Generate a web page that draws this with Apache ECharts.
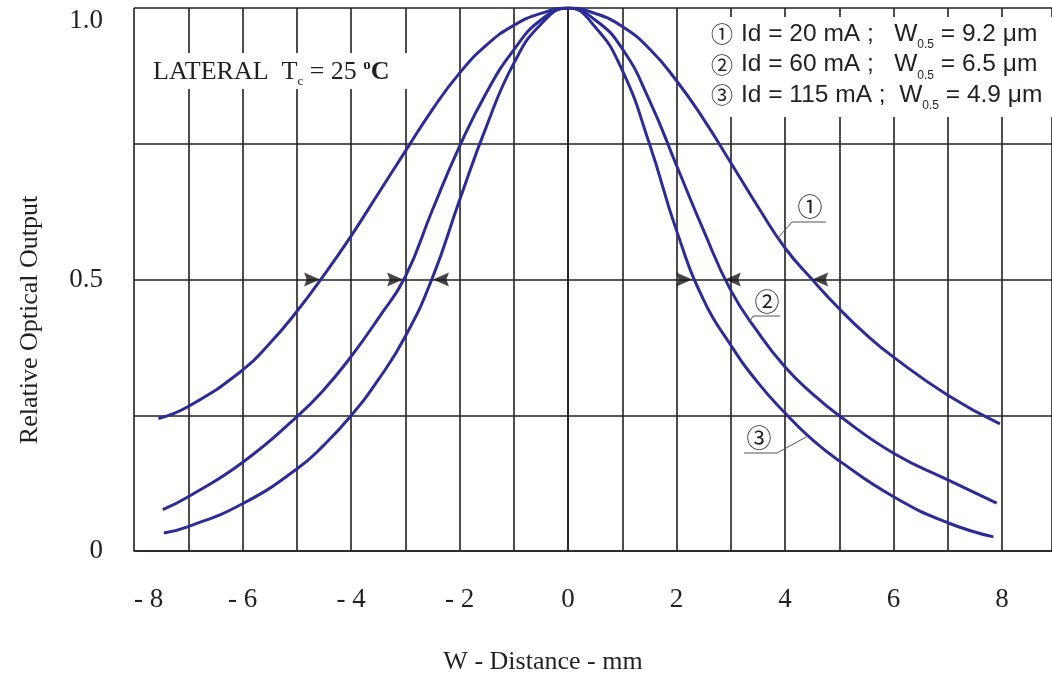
<!DOCTYPE html>
<html>
<head>
<meta charset="utf-8">
<script src="https://cdn.jsdelivr.net/npm/echarts@6/dist/echarts.min.js"></script>
<style>html,body{margin:0;padding:0;background:#fff;}#c{width:1052px;height:679px;}</style>
</head>
<body>
<div id="c"></div>
<script>
// ---- data ----
const xs1 = [-7.55,-7,-6,-5.5,-5,-4.5,-4,-3.5,-3,-2.5,-2,-1.5,-1,-0.5,0,0.5,1,1.5,2,2.5,3,3.5,4,4.5,5,5.5,6,7,7.96];
const ys1 = [0.244,0.266,0.333,0.382,0.441,0.508,0.58,0.658,0.736,0.813,0.88,0.932,0.968,0.99,1.0,0.99,0.966,0.925,0.866,0.795,0.715,0.634,0.558,0.50,0.446,0.398,0.357,0.287,0.234];
const xs2 = [-7.47,-7,-6,-5,-4.5,-4,-3.5,-3,-2.5,-2,-1.5,-1,-0.5,0,0.5,1,1.5,2,2.5,3,3.5,4,4.5,5,6,7,7.9];
const ys2 = [0.076,0.100,0.163,0.247,0.297,0.358,0.428,0.505,0.628,0.745,0.845,0.923,0.978,1.0,0.978,0.925,0.83,0.71,0.59,0.48,0.403,0.339,0.29,0.249,0.18,0.131,0.088];
const xs3 = [-7.45,-7,-6,-5,-4.5,-4,-3.5,-3,-2.5,-2,-1.5,-1,-0.5,0,0.5,1,1.5,2,2.5,3,3.5,4,4.5,5,6,7,7.84];
const ys3 = [0.033,0.045,0.087,0.151,0.195,0.249,0.315,0.395,0.503,0.646,0.783,0.898,0.97,1.0,0.965,0.885,0.75,0.59,0.462,0.379,0.31,0.254,0.205,0.166,0.10,0.052,0.026];
const arrowRightX = [-4.57, -3.04, 2.29];
const arrowLeftX = [-2.49, 2.89, 4.5];
const halfLevel = 0.5;
const xTickLabels = {'-8':'- 8','-6':'- 6','-4':'- 4','-2':'- 2','0':'0','2':'2','4':'4','6':'6','8':'8'};
const yTickLabels = {'0':'0','0.5':'0.5','1':'1.0'};
const legendLines = [
  ['①', 'Id = 20 mA ;   W', '0.5', ' = 9.2 μm'],
  ['②', 'Id = 60 mA ;   W', '0.5', ' = 6.5 μm'],
  ['③', 'Id = 115 mA ;  W', '0.5', ' = 4.9 μm']
];

const pairs = (xs, ys) => xs.map((x, i) => [x, ys[i]]);
const curveColor = '#2b2d94';
const gridColor = '#231f20';
const serif = '"Liberation Serif", "DejaVu Serif", serif';
const sans = '"Liberation Sans", Arial, sans-serif';
const cjk = '"Noto Sans CJK JP", "DejaVu Sans", sans-serif';

const chart = echarts.init(document.getElementById('c'), null, {renderer: 'canvas'});

const legendGraphics = [];
legendLines.forEach((l, i) => {
  const yc = 34 + i * 30.5;
  legendGraphics.push({
    type: 'text', z: 10,
    style: {x: 711, y: yc, text: l[0], font: '22px ' + cjk, fill: '#231f20', textAlign: 'left', textVerticalAlign: 'middle'}
  });
  legendGraphics.push({
    type: 'text', z: 10,
    style: {
      x: 741, y: yc,
      text: '{t|' + l[1] + '}{s|' + l[2] + '}{t|' + l[3] + '}',
      textAlign: 'left', textVerticalAlign: 'middle',
      rich: {
        t: {fontSize: 24.5, fontFamily: sans, fill: '#231f20', color: '#231f20'},
        s: {fontSize: 12, fontFamily: sans, fill: '#231f20', color: '#231f20', padding: [22, 0, 0, 0]}
      }
    }
  });
});

const lineSeries = (xs, ys) => ({
  type: 'line', data: pairs(xs, ys), smooth: 0.5, showSymbol: false,
  lineStyle: {color: curveColor, width: 3}, z: 3
});

const option = {
  animation: false,
  backgroundColor: '#fff',
  grid: {left: 134, top: 8, width: 918, height: 543, containLabel: false, outerBoundsMode: 'none'},
  xAxis: {
    type: 'value', min: -8, max: 8.92, interval: 1,
    axisLine: {show: true, lineStyle: {color: gridColor, width: 1.6}},
    axisTick: {show: false},
    splitLine: {show: true, lineStyle: {color: gridColor, width: 1.6}},
    axisLabel: {
      margin: 35, fontSize: 27, fontFamily: serif, color: gridColor,
      alignMinLabel: 'left',
      formatter: v => (xTickLabels[String(v)] !== undefined ? xTickLabels[String(v)] : '')
    }
  },
  yAxis: {
    type: 'value', min: 0, max: 1, interval: 0.25,
    axisLine: {show: true, lineStyle: {color: gridColor, width: 1.6}},
    axisTick: {show: false},
    splitLine: {show: true, lineStyle: {color: gridColor, width: 1.6}},
    axisLabel: {
      margin: 31, fontSize: 27, fontFamily: serif, color: gridColor,
      formatter: v => {
        const s = yTickLabels[String(v)];
        if (s === undefined) return '';
        return v === 1 ? '{t|' + s + '}' : s;
      },
      rich: {t: {fontSize: 27, fontFamily: serif, color: gridColor, padding: [26, 0, 0, 0]}}
    }
  },
  series: [
    lineSeries(xs1, ys1),
    lineSeries(xs2, ys2),
    lineSeries(xs3, ys3),
    {type: 'scatter', data: arrowRightX.map(x => [x, halfLevel]), symbol: 'path://M0,0 L16,7 L0,14 L2.5,7 Z', symbolSize: [16, 14], symbolOffset: [-8, 0], itemStyle: {color: '#1a1718'}, z: 4, silent: true},
    {type: 'scatter', data: arrowLeftX.map(x => [x, halfLevel]), symbol: 'path://M16,0 L0,7 L16,14 L13.5,7 Z', symbolSize: [16, 14], symbolOffset: [8, 0], itemStyle: {color: '#1a1718'}, z: 4, silent: true}
  ],
  graphic: [
    {type: 'rect', z: 1, shape: {x: 145, y: 53, width: 266, height: 36}, style: {fill: '#fff'}},
    {type: 'rect', z: 1, shape: {x: 704, y: 17, width: 348, height: 100}, style: {fill: '#fff'}},
    {
      type: 'text', z: 10,
      style: {
        x: 153, y: 72, textAlign: 'left', textVerticalAlign: 'middle',
        text: '{n|LATERAL  T}{sub|c}{n| = 25 }{sup|o}{b|C}',
        rich: {
          n: {fontSize: 26, fontFamily: serif, fill: '#231f20', color: '#231f20'},
          sub: {fontSize: 13, fontFamily: serif, fill: '#231f20', color: '#231f20', padding: [20, 0, 0, 0]},
          sup: {fontSize: 15, fontWeight: 'bold', fontFamily: serif, fill: '#231f20', color: '#231f20', padding: [0, 0, 14, 0]},
          b: {fontSize: 26, fontWeight: 'bold', fontFamily: serif, fill: '#231f20', color: '#231f20'}
        }
      }
    },
    ...legendGraphics,
    {type: 'text', z: 10, rotation: Math.PI / 2, x: 30, y: 320,
      style: {x: 0, y: 0, text: 'Relative Optical Output', font: '26px ' + serif, fill: '#231f20', textAlign: 'center', textVerticalAlign: 'middle'}},
    {type: 'text', z: 10,
      style: {x: 543, y: 662, text: 'W - Distance - mm', font: '26px ' + serif, fill: '#231f20', textAlign: 'center', textVerticalAlign: 'middle'}},
    // curve call-outs
    {type: 'text', z: 10, style: {x: 810, y: 206, text: '①', font: '25px ' + cjk, fill: '#231f20', textAlign: 'center', textVerticalAlign: 'middle'}},
    {type: 'polyline', z: 10, shape: {points: [[826, 222], [792, 222], [777, 239]]}, style: {stroke: '#555', lineWidth: 1, fill: null}},
    {type: 'text', z: 10, style: {x: 767, y: 301, text: '②', font: '25px ' + cjk, fill: '#231f20', textAlign: 'center', textVerticalAlign: 'middle'}},
    {type: 'polyline', z: 10, shape: {points: [[780, 316], [753, 316], [749, 323]]}, style: {stroke: '#555', lineWidth: 1, fill: null}},
    {type: 'text', z: 10, style: {x: 759, y: 437, text: '③', font: '25px ' + cjk, fill: '#231f20', textAlign: 'center', textVerticalAlign: 'middle'}},
    {type: 'polyline', z: 10, shape: {points: [[744, 453], [777, 453], [808, 436]]}, style: {stroke: '#555', lineWidth: 1, fill: null}}
  ]
};
chart.setOption(option);
</script>
</body>
</html>
